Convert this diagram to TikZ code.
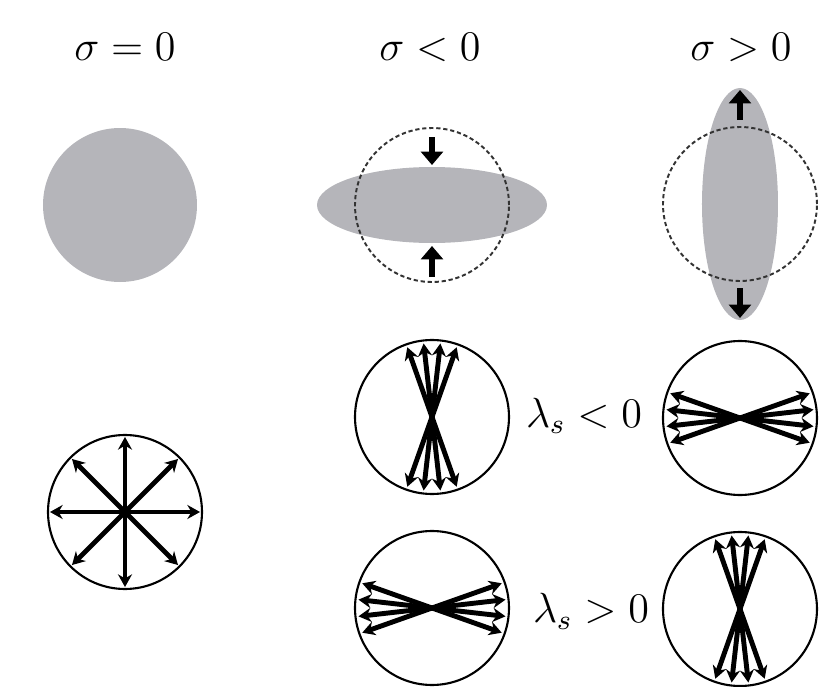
\documentclass[tikz,border=0pt]{standalone}
\usetikzlibrary{arrows.meta}
\definecolor{blobgray}{RGB}{181,181,186}
\begin{document}
\begin{tikzpicture}[
  vec/.style={line width=1.4pt,{Stealth[length=3.6pt,width=4pt]}-{Stealth[length=3.6pt,width=4pt]}},
  ray/.style={line width=1.4pt,-{Stealth[length=3.6pt,width=4pt]}},
  push/.style={line width=1.8pt,-{Triangle[length=3.8pt,width=6.2pt]}},
  rim/.style={line width=0.6pt},
  old/.style={line width=0.55pt,black!80,dash pattern=on 1.2pt off 0.8pt},
  blob/.style={fill=blobgray},
  lbl/.style={anchor=base,font=\large,inner sep=0pt}]
\useasboundingbox (0,0) rectangle (8.36,6.86);
% titles
\node[lbl] (t0) at (1.25,6.26) {$\sigma=0$};
\node[lbl] (tm) at (4.30,6.26) {$\sigma<0$};
\node[lbl] (tp) at (7.41,6.26) {$\sigma>0$};
% centres
\coordinate (c0) at (1.20,4.81);
\coordinate (cm) at (4.32,4.81);
\coordinate (cp) at (7.40,4.82);
\coordinate (s0) at (1.25,1.74);
\coordinate (v1) at (4.32,2.69);
\coordinate (h1) at (7.40,2.68);
\coordinate (h2) at (4.32,0.78);
\coordinate (v2) at (7.40,0.77);
% shapes, top row
\fill[blob] (c0) circle (0.77);
\fill[blob] (cm) ellipse (1.15 and 0.38);
\draw[old] (cm) circle (0.77);
\draw[push] (4.32,5.49) -- (4.32,5.21);
\draw[push] (4.32,4.09) -- (4.32,4.40);
\fill[blob] (cp) ellipse (0.38 and 1.16);
\draw[old] (cp) circle (0.77);
\draw[push] (7.40,5.66) -- (7.40,5.96);
\draw[push] (7.40,3.98) -- (7.40,3.68);
% isotropic
\draw[rim] (s0) circle (0.77);
\foreach \a in {0,45,...,315}
  \draw[ray] (s0) -- ++(\a:0.75);
% bundles
\foreach \c in {v1,v2} {
  \draw[rim] (\c) circle (0.77);
  \foreach \a in {70.5,83.5,96.5,109.5}
    \draw[vec] (\c) ++(\a:0.74) -- ++(\a+180:1.48);
}
\foreach \c in {h1,h2} {
  \draw[rim] (\c) circle (0.77);
  \foreach \a in {-19.5,-6.5,6.5,19.5}
    \draw[vec] (\c) ++(\a:0.74) -- ++(\a+180:1.48);
}
\node[lbl] (lneg) at (5.84,2.59) {$\lambda_s<0$};
\node[lbl] (lpos) at (5.91,0.63) {$\lambda_s>0$};
\end{tikzpicture}
\end{document}
